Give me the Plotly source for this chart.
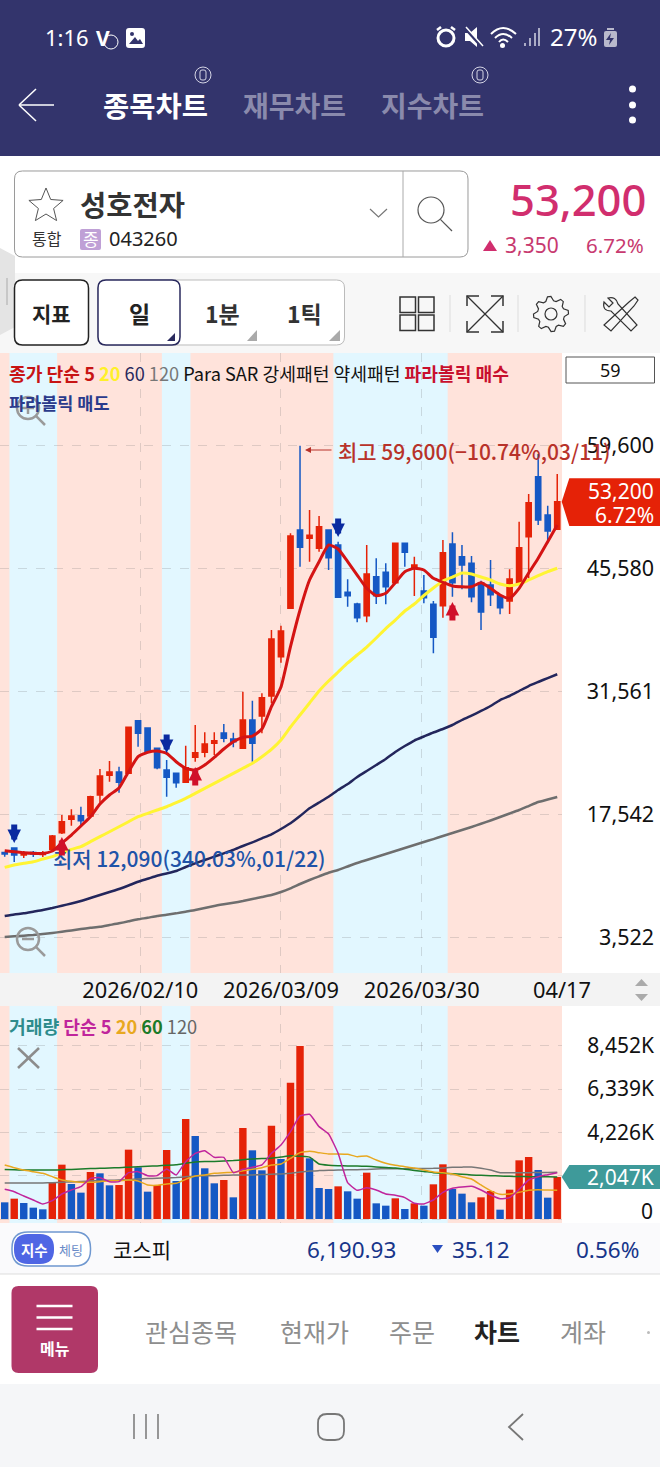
import math
import plotly.graph_objects as go

# daily candles (index 0 = left edge of the chart)
open_px = [13160,13680,12880,13160,12940,13530,15420,16950,17370,17330,19730,21980,22350,22210,28210,27380,25060,22580,22210,21180,24030,24600,25630,26810,26120,25060,28290,28750,31030,35520,41040,49980,49030,47890,49980,48270,42870,41530,40200,44650,45150,43960,48460,45610,43010,41500,41340,48380,46930,46180,43960,43700,42480,41870,43810,49210,56060,51690,50060]
close_px = [12990,12880,13050,12990,13110,15050,16680,17330,16790,19530,21900,22350,21180,27460,26770,24670,22840,21750,21130,22840,24560,25550,25930,26200,25810,28290,25630,30840,37540,38450,49290,48000,49370,50350,46820,42300,42480,39970,44960,42480,43510,48460,47430,45980,42250,37730,47390,43960,45980,42360,40620,42590,41110,44380,47960,53090,51120,49860,53200]
high_px = [13260,13680,13340,13340,13340,15160,17450,18100,18390,19650,22700,23610,22960,27500,28260,27430,25100,23720,22250,25360,27720,26890,26890,27830,26840,31520,30490,31340,38560,39050,49600,59600,52260,51580,50000,48640,44350,41680,48270,46750,46180,48500,48500,46930,44840,41870,48840,49720,48270,47010,44190,46550,42520,45490,50930,54090,58650,52750,56370]
low_px = [12690,12090,12540,12650,12650,13450,15280,16220,16220,17280,18850,21250,19990,22150,25240,24520,22660,19530,20560,21130,23530,24030,24290,25740,25170,25000,23530,26770,30200,34830,41000,45790,46360,47500,45410,42250,41220,39440,39440,41530,41500,43920,45790,42440,41610,35900,39970,42360,43210,41720,38560,41300,40360,40390,43780,44460,50550,48460,50000]

ma5 = [13370,13260,13140,13070,13050,13340,14250,15160,16190,17250,18700,19730,20530,22390,24100,24600,24750,24490,23530,22780,22580,23150,24030,24980,25810,26310,26460,27260,29810,32060,36660,40850,44270,46360,48270,47810,46360,44840,43320,42480,42750,43960,45220,45610,45410,44460,44010,43590,43500,43500,43960,43320,42560,42180,43320,45070,46750,48640,50550]
ma20 = [11470,11740,11930,12110,12420,12690,13140,13530,13830,14400,14970,15540,16110,16680,17250,17640,18020,18390,18850,19350,19920,20490,21060,21630,22200,22780,23350,24100,24940,26010,27490,28860,30230,31600,32740,33770,34800,35710,36620,37650,38730,39700,40730,41530,42500,43360,44160,44610,45070,44960,44610,44270,43810,43620,43810,44270,44760,45220,45610]
ma60 = [5920,6090,6220,6410,6600,6830,7090,7340,7630,7970,8310,8660,9000,9400,9830,10170,10520,10770,11050,11510,11930,12310,12690,13070,13450,13910,14330,14790,15240,15850,16500,17330,18210,18870,19530,20300,20980,21780,22470,23150,23840,24640,25320,25950,26410,26860,27260,27720,28290,28800,29320,29890,30570,31030,31600,32170,32630,33080,33510]
ma120 = [3520,3600,3670,3750,3860,3980,4120,4270,4430,4570,4690,4890,5080,5310,5540,5720,5920,6060,6220,6410,6600,6830,7060,7250,7430,7630,7860,8080,8310,8660,9080,9570,10030,10450,10860,11170,11570,11970,12310,12650,12990,13340,13680,14020,14360,14700,15050,15390,15730,16080,16450,16820,17220,17620,18020,18470,18930,19210,19500]

# volume in thousands of shares
volume = [813,992,780,553,472,1772,2650,1707,1285,2293,2228,1642,1659,3382,2520,1333,1659,3366,1854,4878,4049,2472,1740,1902,1057,4439,3350,2374,4553,2927,6650,8440,2959,1512,1463,1593,1350,992,2260,764,650,1008,488,764,650,1691,2667,1463,1236,813,1057,1366,455,1431,2862,3024,2390,1041,2047]
vol5 = [1447,1333,1122,927,732,894,1220,1415,1577,1984,2016,1821,1821,2260,2309,2114,2114,2439,2146,2797,3203,3333,3008,3008,2260,2423,2520,2634,3203,3610,4260,5024,5106,4504,4146,3203,1772,1398,1528,1415,1220,1154,1041,764,732,927,1301,1496,1561,1593,1415,1171,992,1041,1447,1902,2065,2163,2260]
vol20 = [2634,2504,2390,2309,2228,2065,1902,1837,1789,1789,1821,1870,1870,1902,1854,1659,1642,1707,1740,1935,2098,2146,2228,2260,2276,2358,2423,2504,2634,2683,2959,3236,3301,3236,3171,3171,3155,3041,3073,2878,2715,2618,2553,2488,2390,2293,2260,2195,2065,1951,1659,1382,1203,1220,1301,1398,1431,1415,1398]
vol60 = [2420,2400,2390,2390,2390,2390,2400,2420,2440,2460,2470,2490,2500,2530,2550,2570,2590,2620,2650,2720,2780,2800,2810,2830,2850,2890,2930,2950,2960,3020,3090,3060,3020,2680,2620,2600,2590,2585,2570,2540,2510,2490,2430,2370,2320,2260,2230,2210,2180,2150,2130,2110,2100,2080,2070,2065,2060,2055,2050]
vol120 = [1760,1760,1760,1760,1760,1770,1790,1810,1830,1850,1870,1890,1900,1920,1950,1970,1990,2000,2020,2060,2100,2110,2115,2130,2145,2145,2150,2165,2180,2200,2230,2290,2340,2360,2375,2390,2400,2405,2420,2440,2450,2455,2455,2460,2465,2470,2490,2520,2530,2535,2480,2390,2260,2260,2260,2260,2265,2270,2276]

price_ticks = [59600,45580,31561,17542,3522]
price_labels = ['59,600','45,580','31,561','17,542','3,522']
vol_ticks = [8452,6339,4226,2113,0]
vol_labels = ['8,452K','6,339K','4,226K','','']
date_ticks = [14.24,29.0,43.78,58.5]
date_labels = ['2026/02/10','2026/03/09','2026/03/30','04/17']

# light blue stretches of the chart background (weak pattern), in candle index
band_start = [0.5,16.5,34.5]
band_end = [5.5,19.5,46.5]

# parabolic SAR signals
sell_idx = [1,17,35]
sell_tip = [14250,24520,49180]
buy_idx = [6,20,47]
buy_tip = [14930,22920,41760]

RED = '#E52207'
BLUE = '#1558C4'
NAVY = '#33346C'
KR = 'Noto Sans CJK KR'
NUM = 'Noto Sans'

W, H = 660, 1467


def px(x):
    return x / W


def py(y):
    return 1 - y / H


shapes = []
notes = []


# path in screen pixels -> paper coords
def pth(s):
    out, is_x = [], True
    for t in s.split():
        if t.isalpha():
            out.append(t)
        else:
            out.append(f'{px(float(t)) if is_x else py(float(t)):.5f}')
            is_x = not is_x
    return ' '.join(out)


def shp(s, fill=None, line=None, w=1.0, layer='below'):
    shapes.append(dict(type='path', xref='paper', yref='paper', path=pth(s), layer=layer,
                       fillcolor=fill or 'rgba(0,0,0,0)',
                       line=dict(color=line or 'rgba(0,0,0,0)', width=w if line else 0)))


def box(x0, y0, x1, y1, fill=None, line=None, w=1.0, layer='below', kind='rect'):
    shapes.append(dict(type=kind, xref='paper', yref='paper', x0=px(x0), x1=px(x1), y0=py(y0), y1=py(y1),
                       layer=layer, fillcolor=fill or 'rgba(0,0,0,0)',
                       line=dict(color=line or 'rgba(0,0,0,0)', width=w if line else 0)))


def rr(x0, y0, x1, y1, r):
    return (f'M {x0+r} {y0} L {x1-r} {y0} Q {x1} {y0} {x1} {y0+r} L {x1} {y1-r} Q {x1} {y1} {x1-r} {y1} '
            f'L {x0+r} {y1} Q {x0} {y1} {x0} {y1-r} L {x0} {y0+r} Q {x0} {y0} {x0+r} {y0} Z')


def seg(x0, y0, x1, y1, color, w=1.0, layer='below'):
    shp(f'M {x0} {y0} L {x1} {y1}', line=color, w=w, layer=layer)


def txt(x, y, s, size, color='#111', anchor='left', font=KR, weight=400):
    notes.append(dict(xref='paper', yref='paper', x=px(x), y=py(y), text=s, showarrow=False, xanchor=anchor,
                      yanchor='middle', borderpad=0, font=dict(family=font, size=size, color=color, weight=weight)))


def lens(cx, cy, r, dx, dy, color, w=2.0, layer='below', fill=None):
    box(cx-r, cy-r, cx+r, cy+r, fill=fill, line=color, w=w, layer=layer, kind='circle')
    seg(cx+r*0.72, cy+r*0.72, cx+dx, cy+dy, color, w, layer)


# ---- status bar and tabs
box(0, 0, 660, 156, fill=NAVY)
txt(44, 37, '1:16', 22, 'white', font=NUM)
txt(95, 38, '<b>V</b>', 21, 'white', font=NUM)
box(104, 35, 118, 49, line='white', w=1, kind='circle')
shp(rr(126, 28, 145, 48, 3), fill='white')
shp('M 129 44 L 135 37 L 138 41 L 140 39 L 143 44 Z', fill=NAVY)
box(130, 32, 134, 36, fill=NAVY, kind='circle')
box(438, 30, 454, 46, line='white', w=3, kind='circle')
seg(437, 30, 441, 27, 'white', 2.5)
seg(455, 30, 451, 27, 'white', 2.5)
shp('M 465 33 L 470 33 L 477 27 L 477 47 L 470 41 L 465 41 Z', fill='white')
seg(465, 28, 482, 47, NAVY, 3)
seg(466, 27, 483, 46, 'white', 1.5)
shp('M 491 34 Q 503 22 516 34', line='white', w=2)
shp('M 495 38 Q 503 30 512 38', line='white', w=2)
shp('M 499 42 Q 503 37 508 42', line='white', w=2)
box(500, 43, 505, 48, fill='white', kind='circle')
for bx, top in zip([525, 530, 535, 539], [43, 38, 33, 28]):
    seg(bx, 46, bx, top, '#D5D5E5', 1.5)
txt(549, 37, '27%', 24, 'white', font=NUM)
shp(rr(604, 31, 617, 47, 2), fill='#B9B9CC')
seg(607, 29, 614, 29, '#B9B9CC', 2)
shp('M 611 33 L 606 40 L 610 40 L 609 45 L 614 38 L 610 38 Z', fill=NAVY)

seg(19, 105, 54, 105, 'white', 1.5)
seg(36, 89, 19, 105, 'white', 1.5)
seg(19, 105, 36, 121, 'white', 1.5)
txt(102, 105, '<b>종목차트</b>', 28.5, 'white')
txt(242, 105, '<b>재무차트</b>', 28, '#8A8AAC')
txt(380, 105, '<b>지수차트</b>', 28, '#8A8AAC')
for cx in [203, 480]:
    box(cx-8, 67, cx+8, 83, line='#D5D5E5', w=1, kind='circle')
    shp(rr(cx-3, 70, cx+3, 80, 2), line='#D5D5E5', w=1)
for cy in [89, 105, 120]:
    box(629, cy-3.5, 636, cy+3.5, fill='white', kind='circle')

# ---- stock header
shp(rr(14.5, 171, 468, 257, 8), fill='white', line='#9A9A9A', w=1)
seg(403, 171, 403, 257, '#AAAAAA', 1)
star = []
for k in range(10):
    r = 18 if k % 2 == 0 else 8
    a = -math.pi/2 + k*math.pi/5
    star.append(f'{"M" if k == 0 else "L"} {46+r*math.cos(a):.1f} {206+r*math.sin(a):.1f}')
shp(' '.join(star)+' Z', line='#555', w=1)
txt(79, 203, '<b>성호전자</b>', 28.5, '#333')
txt(31, 238, '통합', 16, '#333')
shp(rr(80, 229, 101, 250, 2), fill='#BFA0D6')
txt(90.5, 239, '종', 17, 'white', 'center')
txt(108, 239, '043260', 20, '#222', font=NUM)
shp('M 370 209 L 378.5 217 L 387 209', line='#777', w=1.2)
lens(431, 210, 13, 21, 21, '#555', 1.2)
txt(647, 199, '53,200', 43.5, '#D12E6E', 'right', font=NUM, weight=500)
shp('M 483 251 L 490 240 L 497 251 Z', fill='#D12E6E')
txt(560, 245, '3,350', 21, '#C83A70', 'right', font=NUM)
txt(645, 245, '6.72%', 20.5, '#C83A70', 'right', font=NUM)

# ---- toolbar
box(0, 273, 660, 353, fill='#F7F7F7')
shp('M 0 248 L 15 256 L 15 327 L 0 335 Z', fill='#E4E4E4')
seg(7, 278, 7, 305, '#AAAAAA', 1)
shp(rr(14.5, 280, 88.5, 345, 8), fill='white', line='#222', w=1.5)
shp(rr(98, 280, 344.5, 345, 8), fill='white', line='#BBBBBB', w=1)
shp(rr(98, 280, 180, 345, 8), fill='white', line='#2A2A5E', w=1.5)
txt(52, 313, '<b>지표</b>', 21, '#222', 'center')
txt(139, 313, '<b>일</b>', 23, '#222', 'center')
txt(222, 313, '<b>1분</b>', 23, '#333', 'center')
txt(304, 313, '<b>1틱</b>', 23, '#333', 'center')
shp('M 175 333 L 175 341 L 167 341 Z', fill='#2A2A5E')
shp('M 257 330 L 257 341 L 247 341 Z', fill='#AAAAAA')
shp('M 340 330 L 340 341 L 329 341 Z', fill='#AAAAAA')
for gx in [400, 418.5]:
    for gy in [297, 315]:
        box(gx, gy, gx+15.5, gy+15.5, line='#333', w=1.5)
for sx in [450, 518, 585]:
    seg(sx, 295, sx, 332, '#DDDDDD', 1)
seg(467, 296, 503, 332, '#333', 1.3)
seg(503, 296, 467, 332, '#333', 1.3)
shp('M 467 306 L 467 296 L 479 296', line='#333', w=1.5)
shp('M 491 296 L 503 296 L 503 306', line='#333', w=1.5)
shp('M 467 321 L 467 332 L 479 332', line='#333', w=1.5)
shp('M 491 332 L 503 332 L 503 321', line='#333', w=1.5)
gear = []
for k in range(32):
    a = k*2*math.pi/32
    r = 17.5 if (k % 4) in (0, 1) else 13.5
    gear.append(f'{"M" if k == 0 else "L"} {551+r*math.cos(a-0.2):.1f} {314+r*math.sin(a-0.2):.1f}')
shp(' '.join(gear)+' Z', line='#333', w=1.2)
box(545, 308, 557, 320, line='#333', w=1.2, kind='circle')
# wrench and screwdriver
shp('M 604 302 L 609 307 L 613 303 L 608 298 Q 616 296 618 304 L 637 325 L 631 331 L 611 311 Q 602 311 604 302 Z', line='#333', w=1.2)
shp('M 635 297 L 638 300 L 634 306 L 611 331 L 604 325 L 629 302 Z', line='#333', w=1.2)

# ---- chart panes: pink, then the pattern bands
box(0, 353, 562, 973, fill='#FFE3DB')
box(0, 1006, 562, 1223, fill='#FFE3DB')
for b0, b1 in zip(band_start, band_end):
    for top, bot in [(353, 973), (1006, 1223)]:
        shapes.append(dict(type='rect', xref='x', yref='paper', x0=b0, x1=b1, y0=py(bot), y1=py(top), layer='below',
                           fillcolor='#E2F7FF', line=dict(width=0)))
box(0, 973, 660, 1006, fill='#F3F3F3')
box(566, 357, 654.5, 383, fill='white', line='#555', w=1)
txt(610, 370, '59', 18, '#111', 'center', font=NUM)

notes.append(dict(xref='paper', yref='paper', x=px(8), y=py(373), showarrow=False, xanchor='left', yanchor='middle', borderpad=0,
                  font=dict(family=KR, size=18.2, color='#111'),
                  text=('<span style="color:#C81414"><b>종가 단순 5</b></span> <span style="color:#FFF02A"><b>20</b></span> '
                        '<span style="color:#2A2A5E">60</span> <span style="color:#777">120</span> '
                        'Para SAR 강세패턴 약세패턴 <span style="color:#C8102E"><b>파라볼릭 매수</b></span>')))
txt(8, 402, '<b>파라볼릭 매도</b>', 17.5, '#2A3A8C')
notes.append(dict(xref='paper', yref='paper', x=px(8), y=py(1026), showarrow=False, xanchor='left', yanchor='middle', borderpad=0,
                  font=dict(family=KR, size=18.2, color='#111'),
                  text=('<span style="color:#2E8C8C"><b>거래량</b></span> <span style="color:#C0259C"><b>단순 5</b></span> '
                        '<span style="color:#E8A820"><b>20</b></span> <span style="color:#1B7B2A"><b>60</b></span> '
                        '<span style="color:#666">120</span>')))

# chart overlay icons
lens(28, 408, 11, 17, 17, '#9A9A9A', 2.5, 'above')
seg(22, 408, 34, 408, '#9A9A9A', 2.5, 'above')
seg(28, 402, 28, 414, '#9A9A9A', 2.5, 'above')
lens(28, 939, 11, 17, 17, '#9A9A9A', 2.5, 'above')
seg(22, 939, 34, 939, '#9A9A9A', 2.5, 'above')
seg(18, 1048, 39, 1068, '#8C8C8C', 2.5, 'above')
seg(39, 1048, 18, 1068, '#8C8C8C', 2.5, 'above')
shp('M 635 986 L 641.5 979 L 648 986 Z', fill='#AAAAAA')
shp('M 635 994 L 641.5 1001 L 648 994 Z', fill='#AAAAAA')

# current price and volume tags
shp('M 561.7 501.7 L 569.3 478.3 L 660 478.3 L 660 526 L 569.3 526 Z', fill=RED, layer='above')
txt(654.5, 491, '53,200', 21, 'white', 'right', font=NUM)
txt(654.5, 515, '6.72%', 21, 'white', 'right', font=NUM)
shp('M 561.7 1177 L 569.3 1165 L 660 1165 L 660 1189 L 569.3 1189 Z', fill='#3E9A9A', layer='above')
txt(654.5, 1177, '2,047K', 21, 'white', 'right', font=NUM)
txt(654, 1211, '0', 21, '#111', 'right', font=NUM)

# high / low callouts
txt(337, 451, '최고 59,600(−10.74%,03/11)', 21, '#B8322A', weight=500)
notes.append(dict(xref='paper', yref='paper', x=px(305), y=py(450), ax=28, ay=0, text='', showarrow=True,
                  arrowhead=2, arrowsize=1.2, arrowwidth=1, arrowcolor='#B8322A'))
txt(52, 858, '최저 12,090(340.03%,01/22)', 21, '#2053A8', weight=500)

# parabolic SAR arrows
for sx, sy in zip(sell_idx, sell_tip):
    notes.append(dict(xref='x', yref='y', x=sx, y=sy, ax=0, ay=-20, text='', showarrow=True,
                      arrowhead=2, arrowsize=0.45, arrowwidth=6, arrowcolor='#0A2AA0'))
for bx, by in zip(buy_idx, buy_tip):
    notes.append(dict(xref='x', yref='y', x=bx, y=by, ax=0, ay=20, text='', showarrow=True,
                      arrowhead=2, arrowsize=0.45, arrowwidth=6, arrowcolor='#D0102A'))

# ---- index ticker and bottom menu
box(0, 1223, 660, 1274, fill='#FAFAFC')
seg(0, 1274, 660, 1274, '#DDDDDD', 1)
shp(rr(12, 1232, 90.5, 1266, 16), fill='white', line='#6F98D0', w=1.5)
shp(rr(14, 1234, 54, 1264, 14), fill='#4F66E4')
txt(34, 1249, '<b>지수</b>', 14.5, 'white', 'center')
txt(71, 1249, '체팅', 13, '#6A8CC8', 'center')
txt(112, 1249, '코스피', 21, '#111')
txt(397, 1249, '6,190.93', 22.5, '#17358A', 'right', font=NUM)
shp('M 432 1245 L 443 1245 L 437.5 1253 Z', fill='#2A4FC0')
txt(511, 1249, '35.12', 22.5, '#17358A', 'right', font=NUM)
txt(640, 1249, '0.56%', 22.5, '#17358A', 'right', font=NUM)
shp(rr(11.5, 1286, 98, 1373, 7), fill='#B03868')
for my in [1306, 1317.5, 1329]:
    seg(36.5, my, 72.5, my, 'white', 2.5)
txt(54.5, 1348, '<b>메뉴</b>', 16, 'white', 'center')
txt(144, 1331, '관심종목', 25, '#8E8E8E')
txt(279, 1331, '현재가', 25, '#8E8E8E')
txt(388, 1331, '주문', 25, '#8E8E8E')
txt(473, 1331, '<b>차트</b>', 25, '#222')
txt(559, 1331, '계좌', 25, '#8E8E8E')
box(647, 1331, 650, 1334, fill='#BBBBBB', kind='circle')
box(0, 1384, 660, 1467, fill='#F5F6F8')
for nx in [134, 146, 158]:
    seg(nx, 1414, nx, 1439, '#777', 1.5)
shp(rr(318, 1414, 344, 1440, 9), line='#777', w=1.8)
shp('M 523 1414 L 509 1427 L 523 1440', line='#777', w=1.8)

# ---- figure
fig = go.Figure()
idx = list(range(len(close_px)))

fig.add_trace(go.Candlestick(x=idx, open=open_px, high=high_px, low=low_px, close=close_px, whiskerwidth=0,
                             increasing=dict(line=dict(color=RED, width=1.5), fillcolor=RED),
                             decreasing=dict(line=dict(color=BLUE, width=1.5), fillcolor=BLUE),
                             xaxis='x', yaxis='y', hoverinfo='skip'))
for vals, col, wd in [(ma120, '#6E6E6E', 2.5), (ma60, '#23265C', 2.5), (ma20, '#FFF433', 3), (ma5, '#D41414', 3)]:
    fig.add_trace(go.Scatter(x=idx, y=vals, mode='lines', line=dict(color=col, width=wd, shape='spline', smoothing=0.5),
                             xaxis='x', yaxis='y', hoverinfo='skip'))

# volume bars are red when volume rose from the day before
vol_colors = [BLUE] + [RED if volume[k] >= volume[k-1] else BLUE for k in idx[1:]]
fig.add_trace(go.Bar(x=idx, y=volume, marker=dict(color=vol_colors, line=dict(width=0)), xaxis='x2', yaxis='y2', hoverinfo='skip'))
for vals, col in [(vol120, '#777777'), (vol60, '#1B7B2A'), (vol20, '#E8A820'), (vol5, '#C0259C')]:
    fig.add_trace(go.Scatter(x=idx, y=vals, mode='lines', line=dict(color=col, width=1.5, shape='spline', smoothing=0.4),
                             xaxis='x2', yaxis='y2', hoverinfo='skip'))

GRID = 'rgba(110,110,110,0.22)'
x_range = [-0.493, 58.5]
fig.update_layout(
    width=W, height=H, margin=dict(l=0, r=0, t=0, b=0, autoexpand=False), autosize=False,
    paper_bgcolor='white', plot_bgcolor='rgba(0,0,0,0)', showlegend=False,
    boxgap=0.22, bargap=0.22, shapes=shapes, annotations=notes,
    font=dict(family=NUM, color='#111'),
    xaxis=dict(domain=[0, 562/W], range=x_range, anchor='y', tickmode='array', tickvals=date_ticks, ticktext=date_labels,
               tickangle=0, tickfont=dict(size=21.8, family=NUM, color='#111'), showgrid=True, gridcolor=GRID, griddash='dash',
               gridwidth=1, ticks='', zeroline=False, showline=False, rangeslider=dict(visible=False), ticklabelstandoff=2),
    xaxis2=dict(domain=[0, 562/W], range=x_range, anchor='y2', tickmode='array', tickvals=date_ticks, ticktext=['', '', '', ''],
                showgrid=True, gridcolor=GRID, griddash='dash', gridwidth=1, ticks='', zeroline=False, showline=False),
    yaxis=dict(domain=[py(973), py(353)], range=[-587, 70180], anchor='free', position=0.991, side='left', overlaying=None,
               tickmode='array', tickvals=price_ticks, ticktext=price_labels, tickfont=dict(size=21.5, family=NUM, color='#111'),
               showgrid=True, gridcolor=GRID, griddash='dash', gridwidth=1, ticks='', zeroline=False, showline=False),
    yaxis2=dict(domain=[py(1223), py(1006)], range=[-195, 10388], anchor='free', position=0.991, side='left',
                tickmode='array', tickvals=vol_ticks, ticktext=vol_labels, tickfont=dict(size=21, family=NUM, color='#111'),
                showgrid=True, gridcolor=GRID, griddash='dash', gridwidth=1, ticks='', zeroline=False, showline=False),
)

fig.write_html("out.html", config=dict(displayModeBar=False), post_script="document.body.style.margin='0';")
